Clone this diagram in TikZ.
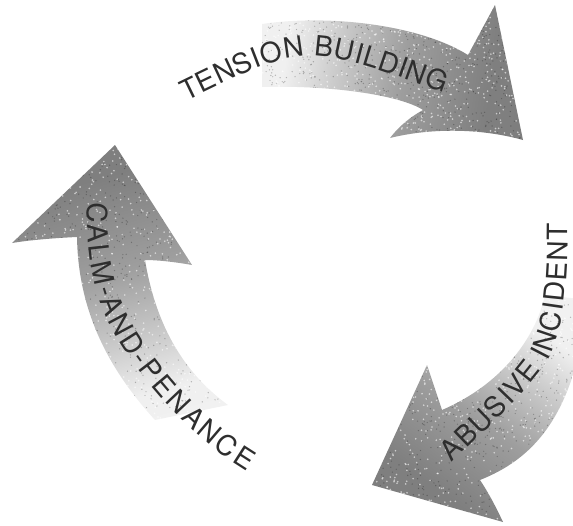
\documentclass[tikz,border=0pt]{standalone}
\usepackage{fontspec}
\setmainfont{TeX Gyre Heros}
\usetikzlibrary{decorations.text}

% grey fill that fades from the arrow head (bottom) to the tail (top)
\pgfdeclareverticalshading{arrowfade}{100bp}{%
  color(0bp)=(black!52); color(30bp)=(black!50); color(48bp)=(black!38);
  color(62bp)=(black!20); color(72bp)=(black!6); color(100bp)=(black!4)}

\newcommand\arclabelfont{\fontsize{28}{30}\selectfont}

% outlines of the three arrows
\def\toparrow{(262,24) .. controls (330,14) and (420,25) .. (468,55)
  -- (495,5) -- (523,140)
  .. controls (480,128) and (430,128) .. (390,138)
  .. controls (400,125) and (412,116) .. (423,110)
  .. controls (400,95) and (330,85) .. (262,87) -- cycle}
\def\rightarrow{(545,295) .. controls (535,340) and (500,385) .. (442,410)
  -- (427,365) -- (372,485) -- (503,522)
  .. controls (495,505) and (488,492) .. (480,480)
  .. controls (530,460) and (575,420) .. (588,300) -- cycle}
\def\leftarrow{(155,420) .. controls (100,360) and (78,300) .. (77,237)
  .. controls (55,238) and (30,240) .. (12,243)
  -- (115,145) -- (192,265)
  .. controls (175,262) and (158,260) .. (145,260)
  .. controls (155,320) and (180,370) .. (228,405) -- cycle}

% speckle scattered over a box: #1..#4 = xmin, xmax, ymin, ymax
\newcommand\speckle[4]{%
  \foreach \k in {1,...,700}{%
    \pgfmathsetmacro\gx{#1+rnd*(#2-#1)}%
    \pgfmathsetmacro\gy{#3+rnd*(#4-#3)}%
    \fill[white, opacity=0.6] (\gx,\gy) circle[radius=0.9];
    \pgfmathsetmacro\hx{#1+rnd*(#2-#1)}%
    \pgfmathsetmacro\hy{#3+rnd*(#4-#3)}%
    \fill[black, opacity=0.25] (\hx,\hy) circle[radius=0.7];
  }}

\tikzset{
  cyclearrow/.style={shading=arrowfade, draw=none},
  arclabel/.style={decorate,
    decoration={text along path, text align={fit to path}, text color=black!82}},
}

\begin{document}
\begin{tikzpicture}[x=1pt,y=-1pt]
\useasboundingbox (0,0) rectangle (573,525);
\clip (0,0) rectangle (573,525);
\pgfmathsetseed{4217}

% top arrow
\shade[cyclearrow, shading angle=81] \toparrow;
\begin{scope}
  \clip \toparrow;
  \speckle{262}{523}{5}{140}
\end{scope}

% right arrow
\shade[cyclearrow, shading angle=-36] \rightarrow;
\begin{scope}
  \clip \rightarrow;
  \speckle{372}{573}{295}{522}
\end{scope}

% left arrow
\shade[cyclearrow, shading angle=-164] \leftarrow;
\begin{scope}
  \clip \leftarrow;
  \speckle{12}{228}{145}{420}
\end{scope}

% labels set along the arrows
\path[arclabel, decoration={text={|\arclabelfont|TENSION BUILDING}}]
  (186,101) .. controls (250,70) and (275,57) .. (310,56)
  .. controls (350,56) and (400,78) .. (444,93);

\path[arclabel, decoration={text={|\arclabelfont|ABUSIVE INCIDENT}}]
  (452,463) .. controls (490,425) and (530,390) .. (548,360)
  .. controls (562,335) and (568,290) .. (568,223);

\path[arclabel, decoration={text={|\arclabelfont|CALM-AND-PENANCE}}]
  (88,202) .. controls (85,260) and (95,305) .. (123,347)
  .. controls (150,390) and (195,440) .. (247,471);
\end{tikzpicture}
\end{document}
